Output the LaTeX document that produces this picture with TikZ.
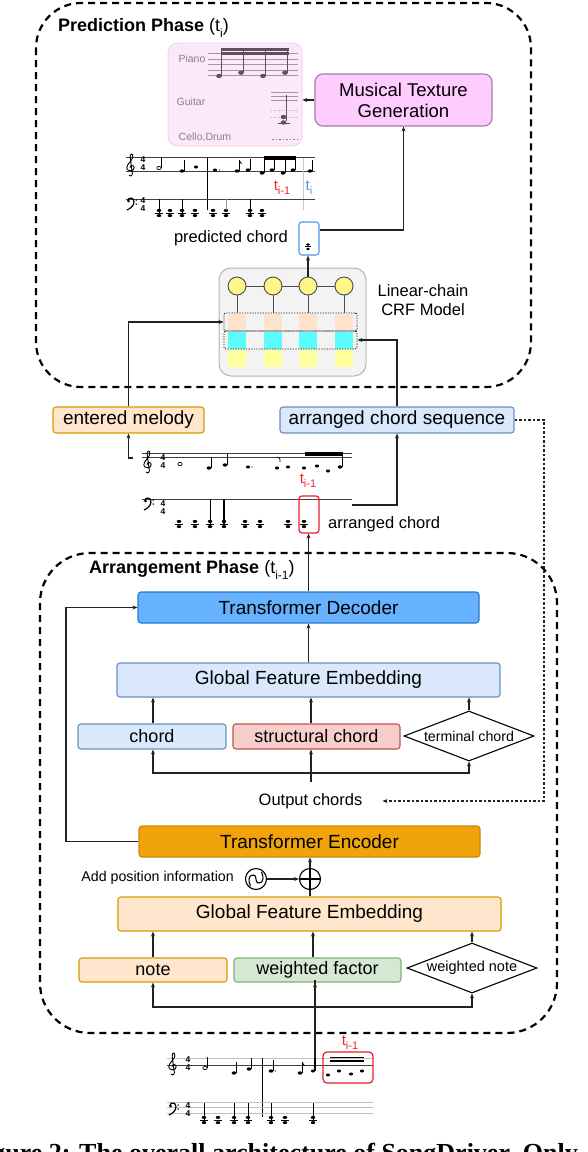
\documentclass[tikz,border=0pt]{standalone}
\usepackage{fontspec}
\setmainfont{Liberation Sans}
\newfontfamily\capfont{Liberation Serif}
\usetikzlibrary{arrows.meta,shapes.geometric,calc}
\definecolor{linec}{HTML}{222222}
\definecolor{mtgfill}{HTML}{FFCCFF}
\definecolor{mtgdraw}{HTML}{A77BA7}
\definecolor{pinkbg}{HTML}{FDE7FB}
\definecolor{pinkbd}{HTML}{F0CDE6}
\definecolor{pinktx}{HTML}{8C7C8C}
\definecolor{pinknt}{HTML}{5F4F5F}
\definecolor{bluefill}{HTML}{DAE8FC}
\definecolor{bluedraw}{HTML}{6C8EBF}
\definecolor{orfill}{HTML}{FFE6CC}
\definecolor{ordraw}{HTML}{D79B00}
\definecolor{redfill}{HTML}{F8CECC}
\definecolor{reddraw}{HTML}{B85450}
\definecolor{grfill}{HTML}{D5E8D4}
\definecolor{grdraw}{HTML}{82B366}
\definecolor{tdfill}{HTML}{66B2FF}
\definecolor{tddraw}{HTML}{2A78C8}
\definecolor{tefill}{HTML}{F0A30A}
\definecolor{tedraw}{HTML}{C88A12}
\definecolor{crfbg}{HTML}{F3F3F3}
\definecolor{crfbd}{HTML}{B5B5B5}
\definecolor{peach}{HTML}{FDE3CC}
\definecolor{cyanc}{HTML}{5CFCFC}
\definecolor{yelc}{HTML}{FFFF9E}
\definecolor{circy}{HTML}{FFF68A}
\definecolor{tred}{HTML}{FF2020}
\definecolor{tblue}{HTML}{4A9BEA}
\definecolor{redbox}{HTML}{E8202A}
\newcommand\fsz[2]{\fontsize{#1}{#2}\selectfont}
\newcommand\tsb[1]{t\raisebox{-0.28em}{\fsz{11}{12}#1}}
% music helpers
\newcommand\mqn[2]{\fill (#1,#2) ellipse (2.3 and 1.7); \draw[line width=0.7pt] (#1+2.1,#2) -- (#1+2.1,#2-11);}
\newcommand\mbn[3]{\fill (#1,#2) ellipse (2.3 and 1.7); \draw[line width=0.7pt] (#1+2.1,#2) -- (#1+2.1,#3);}
\newcommand\mhn[2]{\draw[line width=0.7pt] (#1,#2) ellipse (2.2 and 1.6); \draw[line width=0.7pt] (#1+2.2,#2) -- (#1+2.2,#2-11);}
\newcommand\mdot[2]{\fill (#1,#2) ellipse (2.1 and 1.5);}
\newcommand\mchd[2]{\fill (#1,#2-2.6) ellipse (2.3 and 1.5); \fill (#1,#2+2.6) ellipse (2.3 and 1.5); \draw[line width=0.8pt] (#1-3.6,#2) -- (#1+3.6,#2);}
\newcommand\mtime[3]{\node[font=\bfseries\fsz{8.5}{9}, inner sep=0pt] (#1a) at (#2,#3-4) {4}; \node[font=\bfseries\fsz{8.5}{9}, inner sep=0pt] (#1b) at (#2,#3+4) {4};}
\newcommand\trebc[2]{\draw[line width=0.9pt, shift={(#1,#2)}] (-2,10) .. controls (0,12.5) and (2.5,9.5) .. (1,6) -- (-0.8,-7.5) .. controls (-1.3,-11.5) and (2.2,-12.5) .. (1.8,-8) .. controls (1.4,-4) and (-4.2,-1.5) .. (-4.2,3) .. controls (-4.2,6.5) and (3.2,7) .. (3.2,2.8) .. controls (3.2,-0.2) and (-1.2,-0.2) .. (-1,2.8);}
\newcommand\bassc[2]{\draw[line width=1.2pt, shift={(#1,#2)}] (-3.2,-2) .. controls (-3.2,-6) and (3,-6.2) .. (3,-1.2) .. controls (3,2.8) and (-0.8,5.6) .. (-4,7); \fill[shift={(#1,#2)}] (-2.4,-2) circle (1.4); \fill[shift={(#1,#2)}] (5.2,-3) circle (0.8); \fill[shift={(#1,#2)}] (5.2,1) circle (0.8);}
\tikzset{
 blk/.style={draw, rounded corners=3pt, line width=1.1pt, inner sep=0pt, align=center, font=\fsz{19}{22}},
 arr/.style={-{Stealth[length=5pt,width=4pt]}, line width=1.1pt, draw=linec},
 plain/.style={line width=1.1pt, draw=linec},
 phase/.style={draw=black, line width=2.2pt, dash pattern=on 7pt off 5pt},
 dia/.style={diamond, draw=black, line width=1.1pt, fill=white, inner sep=0pt, aspect=2.6, font=\fsz{14.2}{16}, minimum width=130pt, minimum height=50pt},
 staffl/.style={line width=0.8pt, draw=black!75},
 faintl/.style={line width=0.6pt, draw=black!25},
 tlab/.style={font=\fsz{15}{17}, inner sep=0pt},
 dotbox/.style={draw=black!85, line width=0.9pt, dash pattern=on 1.3pt off 1.3pt, rounded corners=2pt, inner sep=0pt},
 dotarr/.style={-{Stealth[length=5pt,width=4pt]}, line width=1.2pt, dash pattern=on 2.5pt off 2pt, draw=linec},
 pinktxt/.style={text=pinktx, font=\fsz{10.5}{12}, inner sep=0pt},
 lbl/.style={font=\fsz{16.5}{19}, inner sep=0pt},
}
\begin{document}
\begin{tikzpicture}[x=1pt,y=-1pt]
\useasboundingbox (0,0) rectangle (588,1152);
\fill[white] (0,0) rectangle (588,1152);

% ---------- phase frames
\draw[phase, rounded corners=45pt] (36,3) rectangle (531,387);
\node[anchor=west, font=\fsz{18}{20}, inner sep=0pt] (ptitle) at (58,28) {{\bfseries Prediction Phase} (t\raisebox{-0.3em}{\fsz{12}{13}i})};
\draw[phase, rounded corners=50pt] (40,553) rectangle (557,1033);
\node[anchor=west, font=\fsz{18}{20}, inner sep=0pt] (atitle) at (89,570) {{\bfseries Arrangement Phase} (t\raisebox{-0.3em}{\fsz{12}{13}i-1})};

% ---------- texture output (pink panel)
\node[draw=pinkbd, fill=pinkbg, rounded corners=10pt, line width=0.8pt, minimum width=134pt, minimum height=103pt, inner sep=0pt] (piano) at (235,94.5) {};
\node[pinktxt] (ptP) at (192,59) {Piano};
\node[pinktxt] (ptG) at (191,102) {Guitar};
\node[pinktxt] (ptC) at (205,137) {Cello,Drum};
\begin{scope}[pinknt]
\foreach \yy in {53.5,59,64.5,70,75.5} {\draw[line width=0.6pt, draw=pinktx!80] (208,\yy) -- (298,\yy);}
\fill (222,47.5) rectangle (288.5,50.5);
\fill (222,52) rectangle (288.5,54.5);
\foreach \xx/\yy in {219/76,241/72.7,263/76,285/72.7} {\fill (\xx,\yy) ellipse (2.8 and 2.2); \draw[line width=0.9pt] (\xx+2.6,\yy) -- (\xx+2.6,48);}
\draw[line width=0.6pt, draw=pinktx!80] (271,92) -- (298,92);
\draw[line width=0.6pt, draw=pinktx!80] (271,96.7) -- (298,96.7);
\draw[line width=0.6pt, draw=pinktx!80] (271,100) -- (298,100);
\draw[line width=0.5pt, draw=pinktx!60, dash pattern=on 1pt off 1.5pt] (271,110) -- (298,110);
\draw[line width=0.5pt, draw=pinktx!60, dash pattern=on 1pt off 1.5pt] (271,117) -- (298,117);
\draw[line width=0.9pt] (286.5,95) -- (286.5,121);
\fill (283.5,117) ellipse (2.8 and 2.2);
\fill (283.5,122.5) ellipse (2.8 and 2.2);
\draw[line width=0.6pt] (278,123) -- (290,123);
\draw[line width=0.6pt, draw=pinktx, dash pattern=on 1.5pt off 2pt] (272,139) -- (298,139);
\end{scope}

\node[blk, draw=mtgdraw, fill=mtgfill, rounded corners=8pt, minimum width=177pt, minimum height=52pt, font=\fsz{18.5}{21}] (mtg) at (403.5,100) {Musical Texture\\Generation};
\draw[arr] (mtg.west) -- (piano.east |- mtg.west);

% ---------- prediction score
\draw[staffl] (126,157.5) -- (315,157.5);
\draw[staffl] (126,171) -- (315,171);
\trebc{131}{165}
\mtime{tsP1}{143}{164}
\mhn{159}{168}
\mqn{182}{171}
\mdot{196}{167}
\draw[line width=0.9pt] (207,157.5) -- (207,210);
\mdot{215}{170}\fill (219.5,170) circle (0.7);
\mqn{237}{171}\draw[line width=0.7pt] (239.1,160) -- (241.5,164);
\mqn{248}{170}
\mbn{262}{173}{157}\mbn{272}{170}{157}\mbn{283}{173}{157}\mbn{293}{170}{157}
\fill (264,156) rectangle (295.6,159.5);
\mqn{310}{171}
\draw[black!22, line width=0.8pt] (303,157.5) -- (303,210);
\node[tlab, text=tred] (tP1) at (282,188) {\tsb{i-1}};
\node[tlab, text=tblue] (tP2) at (309,188) {\tsb{i}};
\draw[staffl] (126,199) -- (315,199);
\bassc{131}{203}
\mtime{tsP2}{143}{205}
\foreach \cx in {159,170,182,195,213,226,250,262} {\mchd{\cx}{213}}
\draw[line width=0.8pt] (159,199) -- (159,216);
\draw[line width=0.8pt] (182,199) -- (182,216);
\draw[line width=0.8pt] (250,199) -- (250,216);
\draw[line width=0.8pt, black!40] (226,199) -- (226,210);

% predicted chord
\node[draw=tblue, fill=white, line width=1.1pt, rounded corners=3pt, minimum width=20pt, minimum height=33pt, inner sep=0pt] (predbox) at (309,238.5) {};
\fill (308,244.5) ellipse (1.9 and 1.3);
\fill (308,249) ellipse (1.9 and 1.3);
\draw[line width=0.7pt] (305,246.8) -- (311,246.8);
\node[lbl, anchor=east] (predtxt) at (288,238) {predicted chord};
\draw[arr] ([yshift=8.5pt]predbox.east) -| (mtg.south);

% ---------- CRF model
\node[draw=crfbd, fill=crfbg, line width=1pt, rounded corners=12pt, minimum width=147pt, minimum height=108pt, inner sep=0pt] (crf) at (292.5,322) {};
\foreach \cx in {237,273,308,344} {
  \fill[peach] (\cx-9,314) rectangle (\cx+9,330);
  \fill[cyanc] (\cx-9,332) rectangle (\cx+9,349);
  \fill[yelc] (\cx-9,350) rectangle (\cx+9,367);
}
\node[dotbox, minimum width=133pt, minimum height=18pt] (r1) at (290.5,322) {};
\node[dotbox, minimum width=133pt, minimum height=18pt] (r2) at (290.5,340) {};
\draw[line width=1pt, draw=black!70] (237,286) -- (344,286);
\foreach \i/\cx in {1/237,2/273,3/308,4/344} {
  \node[circle, draw=black!70, fill=circy, line width=0.9pt, minimum size=18pt, inner sep=0pt] (c\i) at (\cx,286) {};
  \draw[line width=1pt, draw=black!70] (c\i.south) -- (c\i.south |- r1.north);
}
\draw[arr] (c3.north) -- (c3.north |- predbox.south);
\node[lbl, align=center] (crftxt) at (423,300.5) {Linear-chain\\CRF Model};

% ---------- inputs to CRF
\node[blk, draw=ordraw, fill=orfill, minimum width=151pt, minimum height=26pt] (em) at (128.5,420) {entered melody};
\node[blk, draw=bluedraw, fill=bluefill, minimum width=234pt, minimum height=26pt] (acs) at (397,420) {arranged chord sequence};
\draw[arr] (em.north) |- (r1.west);
\draw[arr] (acs.north) |- (r2.east);

% ---------- middle score
\draw[staffl] (142,453) -- (352,453);
\draw[staffl] (142,457) -- (352,457);
\trebc{148}{462}
\mtime{tsM1}{163}{462}
\draw[line width=0.7pt] (180,464) ellipse (2.2 and 1.7);
\mqn{209}{468}
\mqn{225}{465}
\mdot{248}{467}\fill (252,467) circle (0.7);
\mdot{277}{468}\draw[line width=0.7pt] (277,457) .. controls (280,458) .. (280,462);
\mdot{288}{467}
\mdot{304}{468}
\mdot{317}{466}
\mdot{328}{471}
\mbn{340}{467}{453}
\fill (305,451.5) rectangle (342.5,455.5);
\node[tlab, text=tred] (tM) at (308,481) {\tsb{i-1}};
\draw[staffl] (142,499) -- (352,499);
\bassc{148}{503}
\mtime{tsM2}{163}{508}
\foreach \cx in {179,195,210,224,245,260,288,304} {\mchd{\cx}{524}}
\draw[line width=0.8pt] (210,499) -- (210,527);
\draw[line width=1.2pt] (224,499) -- (224,527);
\node[draw=redbox, line width=1.2pt, rounded corners=3pt, minimum width=20pt, minimum height=37pt, inner sep=0pt] (redM) at (309,514.5) {};
\node[lbl, anchor=west] (arrtxt) at (328,524) {arranged chord};
\coordinate (mst) at (133,458);
\draw[arr] (mst) -- (mst -| em.south) -- (em.south);
\coordinate (bst) at (352,505);
\draw[arr] (bst) -| (acs.south);

% ---------- arrangement phase: decoder side
\node[blk, draw=tddraw, fill=tdfill, minimum width=341pt, minimum height=31pt] (td) at (308.5,607.5) {Transformer Decoder};
\draw[arr] (td.north) -- (td.north |- redM.south);
\node[blk, draw=bluedraw, fill=bluefill, minimum width=383pt, minimum height=34pt] (gfe1) at (308.5,680) {Global Feature Embedding};
\draw[arr] (gfe1.north) -- (td.south);
\node[blk, draw=bluedraw, fill=bluefill, minimum width=148pt, minimum height=25pt, font=\fsz{18}{21}] (chord) at (152,736.5) {chord};
\node[blk, draw=reddraw, fill=redfill, minimum width=167pt, minimum height=25pt, font=\fsz{18}{21}] (sc) at (316.5,736.5) {structural chord};
\node[dia] (tc) at (469,736) {terminal chord};
\draw[arr] (chord.north -| 153,0) -- (153,0 |- gfe1.south);
\draw[arr] ([xshift=-5.5pt]sc.north) -- ([xshift=-5.5pt]sc.north |- gfe1.south);
\draw[arr] (tc.north) -- (tc.north |- gfe1.south);
\node[font=\fsz{16.5}{19}, inner sep=0pt] (outc) at (310.5,801) {Output chords};
\coordinate (bj1) at (311,773);
\draw[arr] (bj1) -| (chord.south -| 153,0);
\draw[arr] (bj1) -| (tc.south);
\draw[arr] ([yshift=11pt]outc.north -| 311,0) -- (311,0 |- sc.south);
\coordinate (dd) at (544,420);
\draw[dotarr] (acs.east) -- (dd) |- ([xshift=20pt]outc.east);

% ---------- encoder side
\node[blk, draw=tedraw, fill=tefill, minimum width=341pt, minimum height=31pt] (te) at (309.5,841.5) {Transformer Encoder};
\coordinate (lb) at (66,700);
\draw[arr] (te.west) -- (te.west -| lb) |- (td.west);
\node[circle, draw=black, line width=1.1pt, minimum size=21pt, inner sep=0pt] (sn) at (256,879) {};
\draw[line width=1.1pt] (250.5,886) .. controls (245,875) and (256,871) .. (256,879) .. controls (256,887) and (267,883) .. (261.5,872);
\node[circle, draw=black, line width=1.1pt, minimum size=21pt, inner sep=0pt] (pl) at (310,879) {};
\draw[line width=1.1pt] (pl.north) -- (pl.south) (pl.west) -- (pl.east);
\draw[arr] (sn.east) -- (pl.west);
\draw[arr] (pl.north) -- (pl.north |- te.south);
\node[anchor=east, font=\fsz{14.2}{16}, inner sep=0pt] (api) at (234,878) {Add position information};
\node[blk, draw=ordraw, fill=orfill, minimum width=383pt, minimum height=34pt] (gfe2) at (309.5,914) {Global Feature Embedding};
\draw[plain] (gfe2.north -| pl.south) -- (pl.south);
\node[blk, draw=ordraw, fill=orfill, minimum width=148pt, minimum height=24pt, font=\fsz{18}{21}] (note) at (153,970) {note};
\node[blk, draw=grdraw, fill=grfill, minimum width=167pt, minimum height=24pt, font=\fsz{18}{21}] (wf) at (317.5,970) {weighted factor};
\node[dia, font=\fsz{14.5}{16}] (wn) at (472,968) {weighted note};
\draw[arr] (note.north) -- (note.north |- gfe2.south);
\draw[arr] ([xshift=-4.5pt]wf.north) -- ([xshift=-4.5pt]wf.north |- gfe2.south);
\draw[arr] (wn.north) -- (wn.north |- gfe2.south);
\coordinate (bj2) at (313,1007);
\draw[arr] (bj2) -| (note.south);
\draw[arr] (bj2) -| (wn.south);

% ---------- bottom score
\draw[faintl] (167,1058.5) -- (373,1058.5);
\draw[staffl] (167,1065) -- (373,1065);
\trebc{173}{1064}
\mtime{tsB1}{188}{1064}
\mhn{205}{1068}
\mqn{234}{1073}
\mqn{249}{1069}
\draw[line width=0.9pt] (262,1058) -- (262,1117);
\mqn{271}{1071}\fill (275.5,1071) circle (0.7);
\mqn{300}{1073}\draw[line width=0.7pt] (302.1,1062) -- (304.5,1066);
\mdot{313}{1071}
\coordinate (bs) at (315,1058);
\draw[arr] (bs) |- (bs |- wf.south);
\draw[line width=1.1pt] (315,1058) -- (315,1071);
\node[draw=redbox, line width=1.2pt, rounded corners=4pt, minimum width=50pt, minimum height=31pt, inner sep=0pt] (redB) at (348,1067.5) {};
\fill (330,1056.5) rectangle (364,1058.3);
\fill (330,1059.8) rectangle (364,1061.6);
\foreach \xx/\yy in {328/1075,339/1071,351/1074,362/1071} {\mdot{\xx}{\yy}}
\node[tlab, text=tred] (tB) at (350,1043) {\tsb{i-1}};
\draw[faintl] (167,1102) -- (373,1102);
\draw[faintl] (167,1107.5) -- (373,1107.5);
\draw[faintl] (167,1113) -- (373,1113);
\bassc{173}{1108}
\mtime{tsB2}{188}{1110}
\foreach \cx in {204,218,234,248,271,285,313} {\mchd{\cx}{1120}}
\foreach \cx in {204,234,248,271,313} {\draw[line width=0.8pt] (\cx,1103) -- (\cx,1122);}

% ---------- caption (cut by the page edge, as in the reference)
\node[anchor=base west, inner sep=0pt, font=\capfont\bfseries\fsz{26}{28}] (cap) at (-31,1161) {Figure 2: The overall architecture of SongDriver. Only};
\end{tikzpicture}
\end{document}
